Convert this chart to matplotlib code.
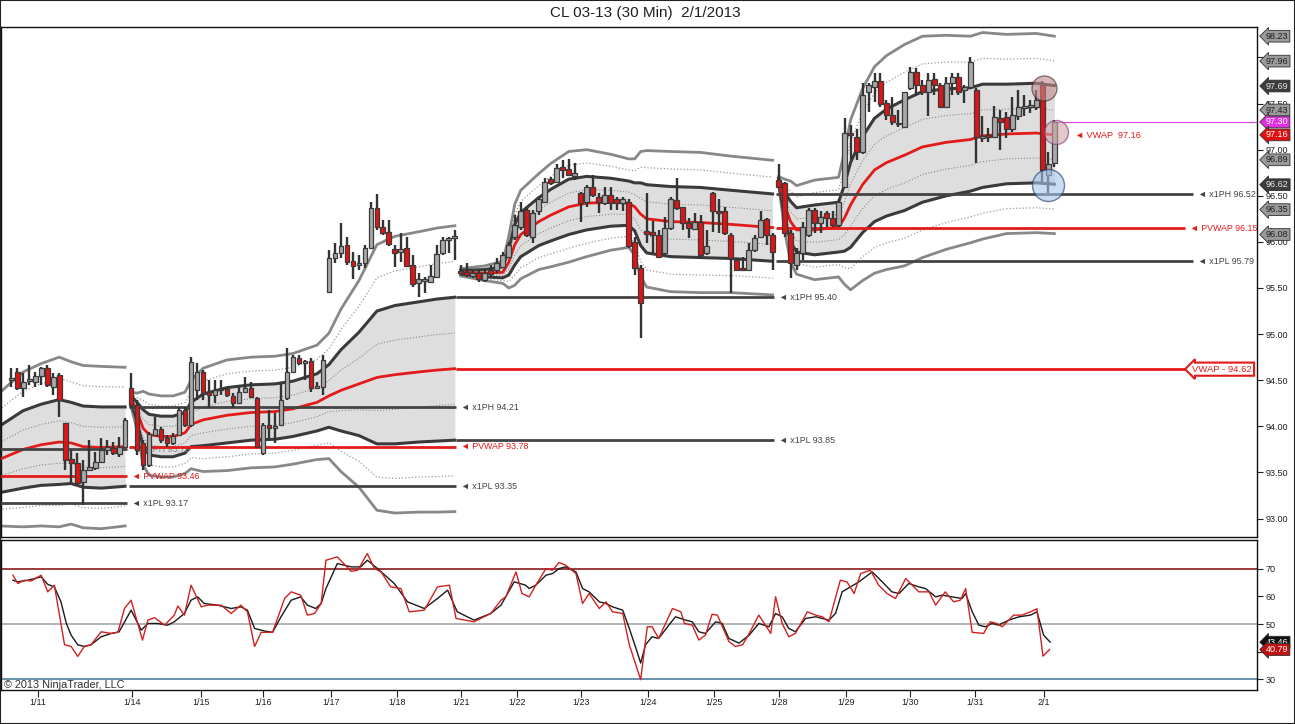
import numpy as np
import matplotlib
matplotlib.use("Agg")
import matplotlib.pyplot as plt
from matplotlib.patches import Rectangle

plt.rcParams['font.family'] = ['Liberation Sans', 'DejaVu Sans']

title = "CL 03-13 (30 Min)  2/1/2013"

# date labels and the bar they sit under
day_labels = ["1/11", "1/14", "1/15", "1/16", "1/17", "1/18", "1/21", "1/22",
              "1/23", "1/24", "1/25", "1/28", "1/29", "1/30", "1/31", "2/1"]
day_index = [4.5, 20.2, 31.7, 42, 53.3, 64.3, 75, 84.3, 95, 106.3, 117.2,
             128, 139.2, 150, 160.8, 172.2]

# 30 min bars (4 weeks)
opens = [94.50, 94.59, 94.42, 94.49, 94.48, 94.55, 94.63, 94.43, 94.56, 94.04,
         93.65, 93.60, 93.40, 93.53, 93.55, 93.61, 93.74, 93.77, 93.70, 93.78,
         94.42, 94.23, 93.82, 93.58, 93.91, 93.97, 93.87, 93.82, 93.91, 94.18,
         94.01, 94.39, 94.59, 94.37, 94.34, 94.39, 94.40, 94.33, 94.25, 94.37,
         94.42, 94.31, 93.71, 94.01, 93.98, 94.01, 94.31, 94.59, 94.74, 94.69,
         94.71, 94.42, 94.43, 95.46, 95.82, 95.88, 95.97, 95.79, 95.75, 95.77,
         95.93, 96.37, 96.16, 96.11, 95.92, 95.89, 95.93, 95.75, 95.55, 95.58,
         95.57, 95.62, 95.88, 96.02, 96.04,
         95.68, 95.67, 95.63, 95.66, 95.59, 95.69, 95.70, 95.73, 95.84,
         96.05, 96.16, 96.35, 96.05, 96.33, 96.43, 96.68, 96.65, 96.81, 96.79, 96.71,
         96.53, 96.43, 96.59, 96.49, 96.42, 96.51, 96.46, 96.42, 96.43, 96.00, 95.72,
         96.12, 96.11, 96.08, 95.88, 96.15, 96.45, 96.38, 96.21, 96.14, 96.22, 95.88,
         96.53, 96.33, 96.33, 96.08, 95.80, 95.72, 95.70, 95.91, 96.05, 96.25, 96.08,
         96.67, 96.64, 96.10, 95.75, 95.88, 96.08, 96.35, 96.21, 96.31, 96.26, 96.18,
         96.60, 97.18, 97.14, 96.97, 97.62, 97.68, 97.74, 97.51, 97.38, 97.28, 97.25,
         97.67, 97.84, 97.70, 97.62, 97.77, 97.70, 97.46, 97.72, 97.79, 97.65, 97.68,
         97.65, 97.13, 97.15, 97.14, 97.34, 97.35, 97.22, 97.36, 97.45, 97.46, 97.46,
         97.70, 96.73, 96.86]
highs = [94.63, 94.63, 94.58, 94.67, 94.59, 94.64, 94.67, 94.58, 94.58, 94.04,
         93.74, 93.71, 93.63, 93.85, 93.72, 93.87, 93.85, 93.83, 93.88, 94.09,
         94.58, 94.29, 93.85, 93.94, 94.10, 93.99, 93.91, 93.93, 94.21, 94.21,
         94.75, 94.69, 94.61, 94.50, 94.50, 94.50, 94.42, 94.36, 94.43, 94.53,
         94.48, 94.32, 94.04, 94.18, 94.14, 94.47, 94.85, 94.77, 94.77, 94.72,
         94.74, 94.48, 94.77, 95.91, 95.99, 96.21, 96.05, 95.89, 95.86, 95.97,
         96.43, 96.52, 96.24, 96.24, 95.97, 96.10, 96.05, 95.86, 95.66, 95.62,
         95.75, 95.97, 96.05, 96.05, 96.13,
         95.75, 95.77, 95.70, 95.70, 95.72, 95.75, 95.83, 95.89, 96.00,
         96.29, 96.43, 96.37, 96.35, 96.49, 96.69, 96.70, 96.84, 96.89, 96.90, 96.86,
         96.54, 96.62, 96.73, 96.53, 96.59, 96.59, 96.49, 96.49, 96.46, 96.05, 95.75,
         96.53, 96.23, 96.13, 96.27, 96.49, 96.69, 96.38, 96.26, 96.31, 96.29, 96.13,
         96.54, 96.46, 96.38, 96.10, 95.83, 95.84, 95.99, 96.08, 96.33, 96.26, 96.10,
         96.84, 96.65, 96.13, 95.93, 96.22, 96.37, 96.37, 96.33, 96.33, 96.33, 96.46,
         97.34, 97.27, 97.22, 97.72, 97.72, 97.83, 97.83, 97.54, 97.57, 97.43, 97.63,
         97.90, 97.89, 97.76, 97.83, 97.83, 97.72, 97.79, 97.83, 97.83, 97.70, 98.00,
         97.67, 97.36, 97.24, 97.47, 97.43, 97.41, 97.57, 97.65, 97.59, 97.54, 97.65,
         97.74, 96.98, 97.32]
lows = [94.43, 94.39, 94.32, 94.45, 94.43, 94.45, 94.43, 94.34, 94.10, 93.53,
        93.39, 93.36, 93.15, 93.53, 93.53, 93.60, 93.69, 93.69, 93.67, 93.77,
        94.20, 93.69, 93.53, 93.56, 93.89, 93.82, 93.78, 93.80, 93.89, 93.99,
        93.99, 94.29, 94.29, 94.20, 94.25, 94.34, 94.32, 94.20, 94.25, 94.36,
        94.31, 93.76, 93.69, 93.85, 93.82, 94.01, 94.29, 94.58, 94.67, 94.50,
        94.37, 94.40, 94.34, 95.46, 95.77, 95.83, 95.75, 95.60, 95.70, 95.72,
        95.93, 96.13, 96.08, 95.95, 95.73, 95.78, 95.73, 95.51, 95.40, 95.45,
        95.55, 95.61, 95.86, 95.88, 95.80,
        95.66, 95.62, 95.61, 95.56, 95.56, 95.62, 95.66, 95.72, 95.83,
        96.02, 96.13, 96.05, 95.99, 96.29, 96.42, 96.62, 96.64, 96.69, 96.71, 96.67,
        96.22, 96.38, 96.49, 96.31, 96.40, 96.35, 96.35, 96.33, 95.93, 95.64, 94.96,
        95.99, 95.88, 95.83, 95.86, 96.13, 96.35, 96.13, 96.04, 96.13, 95.83, 95.86,
        96.11, 96.10, 96.08, 95.45, 95.70, 95.70, 95.68, 95.89, 96.04, 95.97, 95.70,
        96.58, 96.05, 95.61, 95.70, 95.80, 96.05, 96.10, 96.10, 96.16, 96.16, 96.16,
        96.58, 96.89, 96.89, 96.95, 97.41, 97.52, 97.46, 97.32, 97.27, 97.25, 97.25,
        97.65, 97.59, 97.59, 97.36, 97.59, 97.45, 97.45, 97.59, 97.59, 97.51, 97.67,
        96.86, 97.08, 97.08, 97.13, 97.00, 97.13, 97.19, 97.32, 97.36, 97.40, 97.43,
        96.65, 96.53, 96.81]
closes = [94.52, 94.42, 94.48, 94.51, 94.55, 94.63, 94.45, 94.54, 94.29, 93.63,
          93.60, 93.39, 93.53, 93.56, 93.61, 93.74, 93.78, 93.71, 93.78, 94.07,
          94.23, 93.74, 93.58, 93.92, 93.97, 93.85, 93.82, 93.90, 94.18, 94.01,
          94.70, 94.59, 94.36, 94.34, 94.39, 94.40, 94.34, 94.25, 94.37, 94.42,
          94.32, 93.78, 94.01, 93.98, 94.00, 94.29, 94.59, 94.75, 94.69, 94.70,
          94.42, 94.44, 94.72, 95.82, 95.88, 95.96, 95.78, 95.74, 95.77, 95.93,
          96.37, 96.16, 96.10, 95.98, 95.88, 95.92, 95.74, 95.54, 95.60, 95.59,
          95.63, 95.87, 96.02, 96.04, 96.06,
          95.66, 95.64, 95.66, 95.60, 95.66, 95.65, 95.77, 95.86, 95.97,
          96.18, 96.33, 96.08, 96.31, 96.46, 96.65, 96.64, 96.80, 96.78, 96.73, 96.75,
          96.42, 96.59, 96.51, 96.43, 96.51, 96.42, 96.42, 96.46, 95.95, 95.72, 95.34,
          96.09, 96.08, 95.84, 96.15, 96.46, 96.37, 96.21, 96.15, 96.22, 95.86, 95.95,
          96.33, 96.31, 96.10, 95.83, 95.70, 95.70, 95.91, 96.04, 96.24, 96.08, 95.89,
          96.59, 96.10, 95.77, 95.88, 96.16, 96.35, 96.21, 96.27, 96.26, 96.18, 96.43,
          97.18, 97.16, 96.97, 97.59, 97.70, 97.74, 97.49, 97.38, 97.30, 97.29, 97.62,
          97.84, 97.70, 97.62, 97.76, 97.70, 97.46, 97.72, 97.79, 97.63, 97.68, 97.95,
          97.14, 97.15, 97.14, 97.35, 97.30, 97.22, 97.38, 97.46, 97.47, 97.48, 97.54,
          96.78, 96.84, 97.30]

# weekly vwap and one std-dev step, read at sample bars
w1_idx = [-2, 2, 5, 8, 10, 12, 15, 19]
w1_vwap = [93.64, 93.75, 93.80, 93.83, 93.82, 93.78, 93.77, 93.78]
w1_sig = [0.18, 0.21, 0.22, 0.23, 0.22, 0.22, 0.22, 0.215]

w2_idx = [20, 21, 22, 23, 25, 27, 29, 30, 32, 36, 40, 44, 47, 51, 53, 55, 58, 61, 64, 68, 71, 74]
w2_vwap = [94.29, 94.16, 93.98, 93.91, 93.89, 93.89, 93.93, 94.02, 94.07, 94.12, 94.15,
           94.16, 94.19, 94.26, 94.33, 94.39, 94.46, 94.53, 94.56, 94.59, 94.61, 94.625]
w2_sig = [0.02, 0.05, 0.10, 0.11, 0.11, 0.11, 0.11, 0.12, 0.14, 0.15, 0.15,
          0.15, 0.15, 0.155, 0.17, 0.22, 0.28, 0.36, 0.375, 0.38, 0.385, 0.3875]

w3_idx = [75, 79, 82, 83, 84, 85, 88, 90, 93, 96, 100, 103, 104, 105, 106, 110, 115, 120, 127]
w3_vwap = [95.67, 95.66, 95.67, 95.78, 95.97, 96.08, 96.22, 96.29, 96.38, 96.42, 96.43,
           96.42, 96.38, 96.30, 96.25, 96.22, 96.21, 96.19, 96.155]
w3_sig = [0.01, 0.02, 0.03, 0.07, 0.11, 0.12, 0.13, 0.14, 0.15, 0.145, 0.13,
          0.12, 0.13, 0.17, 0.185, 0.19, 0.19, 0.185, 0.1825]

w4_idx = [128, 129, 130, 131, 134, 138, 139, 140, 142, 144, 146, 149, 152, 156, 160, 162, 166, 171, 174]
w4_vwap = [96.67, 96.40, 96.22, 96.13, 96.13, 96.16, 96.26, 96.40, 96.62, 96.78, 96.86,
           96.94, 97.03, 97.08, 97.11, 97.15, 97.17, 97.18, 97.16]
w4_sig = [0.01, 0.07, 0.11, 0.12, 0.135, 0.135, 0.18, 0.23, 0.26, 0.28, 0.29,
          0.30, 0.30, 0.29, 0.28, 0.28, 0.27, 0.27, 0.2675]

# prior-week levels: value, first bar, last bar, text
lvl_values = [93.75, 93.46, 93.17, 94.21, 93.78, 93.35, 95.40, 93.85, 96.52, 96.15, 95.79]
lvl_start = [-2, -2, -2, 19.6, 19.6, 19.6, 74.2, 74.2, 127.6, 127.6, 127.6]
lvl_end = [19.3, 19.3, 19.3, 74.2, 74.2, 74.2, 127.2, 127.2, 197.2, 195.8, 197.2]
lvl_text = ["x1PH 93.75", "PVWAP 93.46", "x1PL 93.17", "x1PH 94.21", "PVWAP 93.78",
            "x1PL 93.35", "x1PH 95.40", "x1PL 93.85", "x1PH 96.52", "PVWAP 96.15", "x1PL 95.79"]

prior_vwap = 94.62
current_vwap = 97.16
last_price = 97.30

# right-hand value tags
tag_values = [98.23, 97.96, 97.69, 97.43, 97.30, 97.16, 96.89, 96.62, 96.35, 96.08]
tag_face = ['#9a9a9a', '#9a9a9a', '#3c3c3c', '#9a9a9a', '#e030e0', '#e01010',
            '#9a9a9a', '#3c3c3c', '#9a9a9a', '#9a9a9a']
tag_ink = ['#202020', '#202020', '#e8e8e8', '#202020', 'white', 'white',
           '#202020', '#e8e8e8', '#202020', '#202020']

# oscillator panel (read at bar positions)
blk_x = [0.3, 1.1, 2.8, 5.0, 6.1, 7.2, 8.3, 9.2, 10.0, 11.1, 12.2, 13.3, 15.0, 16.7, 18.0,
         20.0, 21.7, 22.8, 24.4, 26.1, 27.2, 28.9, 30.0, 31.1, 32.2, 34.4, 36.7, 38.3, 39.4,
         40.6, 42.2, 43.6, 45.0, 46.7, 48.3, 49.4, 50.8, 51.7, 52.5, 54.4, 56.7, 58.3, 59.4,
         61.1, 63.9, 66.1, 68.9, 71.1, 72.8, 74.4, 77.2, 80.0, 81.7, 83.9, 85.8, 86.4, 87.5,
         89.2, 90.3, 91.4, 92.5, 94.2, 95.3, 96.4, 98.1, 99.2, 100.3, 102.0, 103.1, 104.2,
         105.0, 105.8, 106.9, 108.0, 109.7, 110.8, 112.5, 113.6, 114.7, 115.8, 117.5, 118.6,
         119.7, 121.4, 123.1, 124.7, 126.4, 127.5, 128.6, 129.7, 130.8, 132.5, 134.2, 136.4,
         137.5, 138.6, 141.4, 143.6, 145.3, 146.9, 148.1, 149.7, 151.4, 152.5, 154.2, 155.3,
         156.9, 158.6, 159.2, 160.3, 161.4, 162.5, 163.6, 164.7, 166.4, 168.1, 170.0, 171.1,
         172.2, 173.3]
blk_y = [65.8, 65.2, 65.8, 67.0, 64.3, 63.4, 58.0, 50.2, 46.0, 42.5, 41.9, 42.5, 45.4, 46.6, 47.2,
         55.0, 47.8, 50.2, 50.2, 49.6, 50.8, 53.8, 58.6, 59.8, 57.4, 56.8, 55.6, 56.2, 55.0,
         48.4, 47.5, 47.0, 52.6, 58.6, 59.8, 56.8, 55.6, 57.4, 62.8, 71.8, 70.6, 70.6, 73.0,
         70.0, 64.6, 58.0, 55.6, 59.2, 62.2, 54.4, 51.4, 53.8, 56.8, 65.2, 64.0, 62.8, 64.0,
         67.6, 68.2, 70.0, 70.6, 68.8, 62.8, 61.6, 58.0, 57.4, 56.2, 55.0, 48.4, 41.3,
         35.9, 42.5, 45.4, 44.8, 49.6, 52.6, 51.4, 50.8, 47.2, 46.6, 50.8, 50.2,
         44.8, 43.1, 46.0, 50.2, 49.0, 53.8, 52.6, 48.4, 47.2, 52.0, 52.6, 51.4,
         53.8, 61.6, 65.2, 68.8, 65.2, 61.6, 61.0, 64.6, 63.4, 62.8, 59.8, 60.4,
         59.8, 59.2, 61.0, 54.4, 49.6, 49.0, 50.2, 49.6, 51.4, 52.6, 53.2, 54.4,
         46.0, 43.46]
red_x = [0.3, 1.1, 2.2, 3.3, 5.0, 6.1, 7.2, 8.9, 10.0, 11.1, 12.2, 13.3, 15.0, 16.7, 17.8,
         18.9, 20.0, 21.9, 22.8, 23.9, 25.6, 27.2, 27.8, 28.9, 30.0, 31.7, 32.8, 35.0, 36.7,
         38.3, 39.4, 40.6, 41.7, 43.6, 45.6, 46.7, 48.3, 49.4, 50.6, 51.7, 52.5, 54.4, 56.7,
         57.8, 59.4, 60.6, 61.7, 63.3, 65.0, 66.4, 68.9, 71.1, 73.1, 74.2, 77.2, 78.9, 80.0,
         81.7, 82.5, 84.2, 85.2, 86.4, 87.5, 89.2, 90.3, 91.4, 92.5, 94.2, 95.3, 96.4, 98.1,
         99.2, 100.3, 102.0, 103.1, 105.0, 106.1, 106.9, 108.0, 110.3, 111.7, 112.3, 113.6,
         114.7, 115.8, 116.9, 117.8, 119.7, 120.8, 122.0, 123.1, 124.7, 126.7, 127.5, 128.6,
         129.7, 130.8, 132.8, 134.2, 135.3, 136.4, 138.3, 139.4, 140.6, 141.7, 143.3, 144.7,
         146.1, 147.5, 149.2, 151.4, 153.1, 154.2, 155.8, 157.2, 158.3, 159.2, 160.3, 162.2,
         163.3, 164.4, 165.3, 167.2, 168.6, 170.0, 171.1, 172.1, 173.2]
red_y = [67.6, 64.6, 65.8, 65.5, 67.6, 61.6, 64.0, 42.5, 41.9, 38.3, 41.9, 42.5, 47.2, 46.6, 47.0,
         55.6, 58.6, 44.2, 51.4, 52.3, 49.6, 53.2, 56.5, 53.2, 64.0, 56.2, 56.8, 56.8, 53.8,
         56.8, 54.4, 41.9, 47.0, 47.0, 59.2, 61.6, 60.4, 53.2, 53.8, 57.4, 73.0, 74.2, 69.0,
         69.4, 75.4, 70.0, 68.8, 63.4, 62.8, 54.4, 55.0, 63.4, 64.0, 52.0, 50.8, 52.6, 53.8,
         58.6, 59.8, 68.8, 61.0, 59.8, 64.0, 70.0, 69.4, 72.2, 71.2, 68.2, 57.4, 61.0, 55.6,
         58.0, 54.4, 53.8, 42.5, 29.9, 49.0, 49.0, 44.8, 55.6, 54.4, 50.2, 49.6,
         44.2, 46.0, 53.5, 53.2, 43.7, 41.9, 42.5, 46.6, 53.2, 46.6, 59.8, 50.2,
         45.4, 46.6, 54.4, 53.2, 52.6, 50.8, 65.8, 65.2, 61.0, 68.2, 69.4, 64.0,
         61.0, 59.2, 66.4, 61.6, 61.6, 56.8, 61.6, 58.0, 58.6, 62.8, 47.0, 46.6,
         50.8, 50.2, 49.0, 53.2, 53.2, 54.4, 55.5, 38.4, 40.79]
osc_levels = [70, 50, 30]
osc_tags = [43.46, 40.79]

W, H = 1295, 724
fig = plt.figure(figsize=(W / 100, H / 100), dpi=100)
fig.patch.set_facecolor('white')

ax = fig.add_axes([1 / W, 1 - 537 / H, 1256 / W, 510 / H])
ax2 = fig.add_axes([1 / W, 1 - 690 / H, 1256 / W, 150 / H])

XMIN, XMAX = -1.7, 207.8
ax.set_xlim(XMIN, XMAX)
ax.set_ylim(92.80, 98.33)
ax2.set_xlim(XMIN, XMAX)
ax2.set_ylim(26.2, 80.3)

DARK = '#3a3a3a'
RED = '#e31a1a'

# vwap bands, one set per week
for idx, vw, sg in [(w1_idx, w1_vwap, w1_sig), (w2_idx, w2_vwap, w2_sig),
                    (w3_idx, w3_vwap, w3_sig), (w4_idx, w4_vwap, w4_sig)]:
    idx = np.array(idx, float)
    vw = np.array(vw)
    sg = np.array(sg)
    ax.fill_between(idx, vw - 2 * sg, vw + 2 * sg, color='#dedede', lw=0, zorder=1)
    for sign in (1, -1):
        ax.plot(idx, vw + sign * 4 * sg, color='#888888', lw=2.0, zorder=2)
        ax.plot(idx, vw + sign * 3 * sg, color='#9a9a9a', lw=0.9, ls=':', zorder=2)
        ax.plot(idx, vw + sign * 2 * sg, color=DARK, lw=2.2, zorder=2)
        ax.plot(idx, vw + sign * 1 * sg, color='#8a8a8a', lw=0.8, ls=':', zorder=2)
    ax.plot(idx, vw, color=RED, lw=2.0, zorder=3)

# prior week levels
for v, a, b, t in zip(lvl_values, lvl_start, lvl_end, lvl_text):
    col = RED if 'VWAP' in t else '#444444'
    ax.hlines(v, a, b, color=col, lw=2.0, zorder=3)
    tcol = '#888888' if t == "x1PH 93.75" else col
    ax.text(b + 0.8, v, '\u25c4 ' + t, color=tcol, fontsize=6.4, va='center', ha='left', zorder=3)

ax.hlines(prior_vwap, 74.2, 195.8, color=RED, lw=2.0, zorder=3)
ax.text(197.0, prior_vwap, 'VWAP - %.2f' % prior_vwap, color=RED, fontsize=6.8,
        va='center', ha='left', zorder=8,
        bbox=dict(boxstyle='larrow,pad=0.22', fc='white', ec=RED, lw=1.5))
ax.text(177.5, current_vwap, '\u25c4 VWAP  %.2f' % current_vwap, color=RED, fontsize=6.6,
        va='center', ha='left', zorder=3)
ax.hlines(last_price, 174, XMAX, color='#e040e0', lw=0.8, zorder=3)

# candles
x = np.arange(len(opens))
o = np.array(opens)
h = np.array(highs)
l = np.array(lows)
c = np.array(closes)
up = c >= o
ax.vlines(x, l, h, color='#333333', lw=1.7, zorder=4)
body_lo = np.minimum(o, c)
body_h = np.maximum(np.abs(c - o), 0.014)
ax.bar(x[up], body_h[up], bottom=body_lo[up], width=0.8, color='#a9a9a9',
       edgecolor='#3a3a3a', lw=0.9, zorder=5)
ax.bar(x[~up], body_h[~up], bottom=body_lo[~up], width=0.8, color='#e01414',
       edgecolor='#3a3a3a', lw=0.9, zorder=5)

# highlight circles
ax.scatter([172.2], [97.67], s=(25 * 0.72) ** 2, facecolor='#c08a8a', edgecolor='#402828',
           lw=1.0, alpha=0.6, zorder=7)
ax.scatter([174.2], [97.19], s=(24 * 0.72) ** 2, facecolor='#d0a4a4', edgecolor='#803080',
           lw=1.0, alpha=0.6, zorder=7)
ax.scatter([173.0], [96.62], s=(32 * 0.72) ** 2, facecolor='#a4c6ee', edgecolor='#1c2c60',
           lw=1.0, alpha=0.6, zorder=7)

# right axis of price panel (98.00 sits under a tag)
pticks = np.arange(93.0, 98.01, 0.5)
ax.yaxis.tick_right()
ax.set_yticks(pticks)
ax.set_yticklabels(['' if abs(t - 98.0) < 1e-6 else '%.2f' % t for t in pticks])
ax.tick_params(axis='y', length=4, width=0.8, labelsize=6.5, pad=2, colors='#202020')
ax.tick_params(axis='x', bottom=False, labelbottom=False)
for v, fc, ink in zip(tag_values, tag_face, tag_ink):
    ax.text(1 + 9 / 1256, v, '%.2f' % v, transform=ax.get_yaxis_transform(),
            fontsize=6.5, color=ink, va='center', ha='left', clip_on=False, zorder=9,
            bbox=dict(boxstyle='larrow,pad=0.15', fc=fc, ec='#303030', lw=0.6))

# oscillator panel
ax2.axhline(osc_levels[0], color='#8b1a1a', lw=1.2, zorder=1)
ax2.axhline(osc_levels[1], color='#a8a8a8', lw=1.2, zorder=1)
ax2.axhline(osc_levels[2], color='#4f7f9f', lw=1.2, zorder=1)
ax2.plot(blk_x, blk_y, color='#1a1a1a', lw=1.0, zorder=3)
ax2.plot(red_x, red_y, color='#d02020', lw=1.0, zorder=4)
ax2.yaxis.tick_right()
ax2.set_yticks([30, 40, 50, 60, 70])
ax2.set_yticklabels(['30', '', '50', '60', '70'])
ax2.tick_params(axis='y', length=4, width=0.8, labelsize=6.5, pad=2, colors='#202020')
ax2.set_xticks(day_index)
ax2.set_xticklabels(day_labels)
ax2.tick_params(axis='x', length=5, width=0.8, labelsize=6.5, pad=1, colors='#202020')
for v, fc in zip(osc_tags, ['#101010', '#c01010']):
    ax2.text(1 + 9 / 1256, v, '%.2f' % v, transform=ax2.get_yaxis_transform(),
             fontsize=6.5, color='white', va='center', ha='left', clip_on=False, zorder=9,
             bbox=dict(boxstyle='larrow,pad=0.15', fc=fc, ec='#303030', lw=0.6))
ax2.text(3 / 1256, 0.0, '\u00a9 2013 NinjaTrader, LLC', transform=ax2.transAxes,
         fontsize=7.8, color='#303030', ha='left', va='bottom')

for a in (ax, ax2):
    for s in a.spines.values():
        s.set_color('#101010')
        s.set_linewidth(1.0)

fig.text(645 / W, 1 - 13 / H, title, ha='center', va='center', fontsize=11, color='#202020')
fig.patches.append(Rectangle((0, 0), 1, 1, transform=fig.transFigure, fill=False,
                             edgecolor='#202020', lw=1.5))

fig.savefig('out.png', dpi=100)
